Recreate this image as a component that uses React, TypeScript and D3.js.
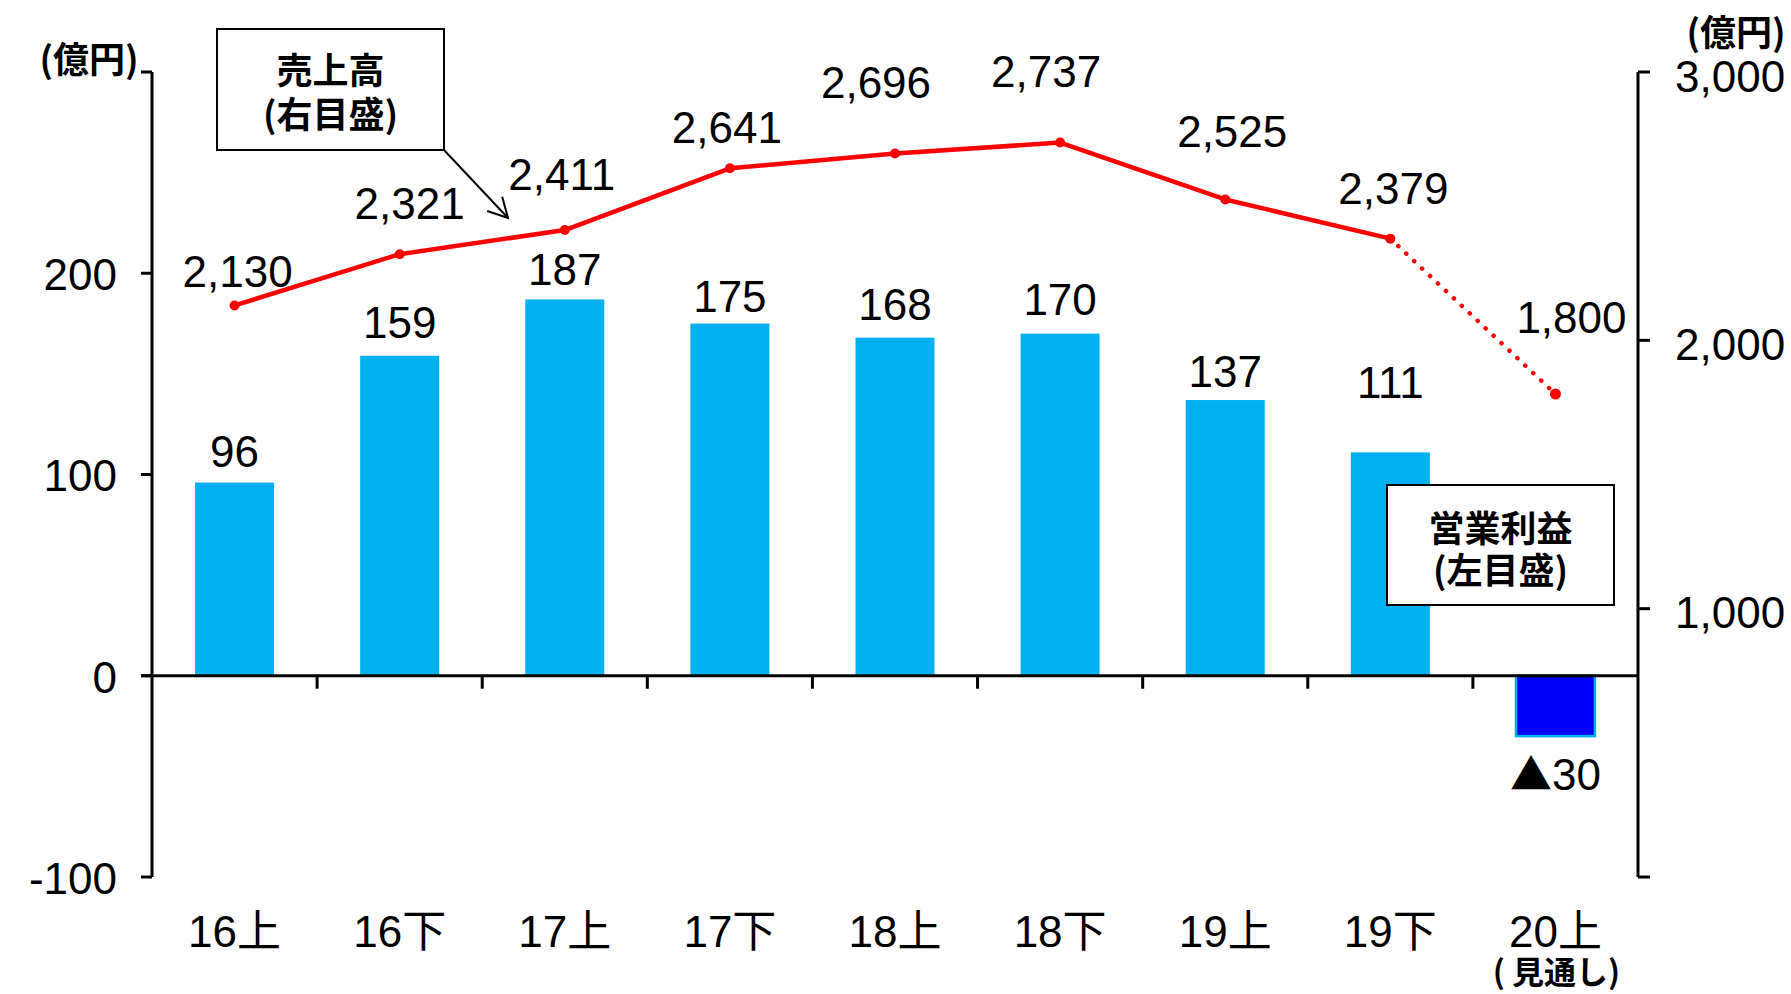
import React from "react";
import * as d3 from "d3";

const categories = ["16上", "16下", "17上", "17下", "18上", "18下", "19上", "19下", "20上"];
const operatingProfit = [96, 159, 187, 175, 168, 170, 137, 111, -30];
const sales = [2130, 2321, 2411, 2641, 2696, 2737, 2525, 2379, 1800];
const leftTickValues = [-100, 0, 100, 200, 300];
const leftTickLabels = ["-100", "0", "100", "200", ""];
const rightTickValues = [0, 1000, 2000, 3000];
const rightTickLabels = ["", "1,000", "2,000", "3,000"];
const forecastIndex = 8;

export default function App() {
  const W = 1791;
  const H = 994;
  const left = 152;
  const right = 1638;
  const top = 72;
  const bottom = 877;

  const x = d3
    .scaleBand<string>()
    .domain(categories)
    .range([left, right])
    .paddingInner(0.5215)
    .paddingOuter(0.26075);
  const yL = d3.scaleLinear().domain([-100, 300]).range([bottom, top]);
  const yR = d3.scaleLinear().domain([0, 3000]).range([bottom, top]);
  const cx = (c: string) => (x(c) as number) + x.bandwidth() / 2;
  const step = x.step();
  const fmt = d3.format(",");

  const numFont = "'Liberation Sans', Arial, sans-serif";
  const jpFont = "'Noto Sans CJK JP', 'Noto Sans', sans-serif";
  const mixFont = "'Liberation Sans', 'Noto Sans CJK JP', sans-serif";
  const numSize = 44;
  const numBase = 15.8; // digit center -> baseline
  const jpSize = 36;
  const jpBase = 13.5;

  // layout offsets for labels (pixel nudges, as in the reference)
  const salesLabelDx = [3, 10, -3, -3, -19, -14, 7, 3, 16];
  const salesLabelDy = [-34, -51, -56, -41, -71, -71, -68, -50, -77];
  const barLabelDy = [-31, -34, -30, -27, -33, -34, -29, -70, 38];

  const pts = sales.map((v, i) => [cx(categories[i]), yR(v)] as [number, number]);
  const line = d3.line();
  const solidPath = line(pts.slice(0, forecastIndex)) as string;
  const dottedPath = line(pts.slice(forecastIndex - 1)) as string;

  const zeroY = yL(0);

  // arrow geometry
  const ax1 = 444, ay1 = 150, ax2 = 508, ay2 = 218;
  const ang = Math.atan2(ay2 - ay1, ax2 - ax1);
  const headLen = 22;
  const headA = (28 * Math.PI) / 180;
  const h1 = [ax2 - headLen * Math.cos(ang - headA), ay2 - headLen * Math.sin(ang - headA)];
  const h2 = [ax2 - headLen * Math.cos(ang + headA), ay2 - headLen * Math.sin(ang + headA)];

  return (
    <svg
      width={W}
      height={H}
      viewBox={`0 0 ${W} ${H}`}
      style={{ position: "absolute", left: 0, top: 0, background: "#fff" }}
    >
      <rect x={0} y={0} width={W} height={H} fill="#fff" />

      {/* bars */}
      {operatingProfit.map((v, i) => {
        const c = categories[i];
        const y0 = Math.min(yL(v), zeroY);
        const h = Math.abs(yL(v) - zeroY);
        const neg = v < 0;
        return (
          <rect
            key={"b" + i}
            x={x(c) as number}
            y={y0}
            width={x.bandwidth()}
            height={h}
            fill={neg ? "#0000FF" : "#00B0F0"}
            stroke={neg ? "#00B0F0" : "none"}
            strokeWidth={neg ? 2.5 : 0}
          />
        );
      })}

      {/* bar labels */}
      {operatingProfit.map((v, i) => {
        const c = categories[i];
        return (
          <text
            key={"bl" + i}
            x={cx(c)}
            y={yL(v) + barLabelDy[i] + numBase}
            textAnchor="middle"
            fontFamily={numFont}
            fontSize={numSize}
            fill="#000"
          >
            {v < 0 ? (
              <>
                <tspan fontFamily={jpFont} fontSize={42}>▲</tspan>
                {String(Math.abs(v))}
              </>
            ) : (
              String(v)
            )}
          </text>
        );
      })}

      {/* left axis */}
      <line x1={left} y1={top} x2={left} y2={bottom} stroke="#000" strokeWidth={3} />
      {leftTickValues.map((v, i) => (
        <g key={"lt" + i}>
          <line x1={left - 11} x2={left} y1={yL(v)} y2={yL(v)} stroke="#000" strokeWidth={3} />
          {leftTickLabels[i] && (
            <text
              x={117}
              y={yL(v) + 1 + numBase}
              textAnchor="end"
              fontFamily={numFont}
              fontSize={numSize}
              fill="#000"
            >
              {leftTickLabels[i]}
            </text>
          )}
        </g>
      ))}
      <text x={89} y={59 + jpBase} textAnchor="middle" fontFamily={jpFont} fontWeight={700} fontSize={jpSize} fill="#000">
        (億円)
      </text>

      {/* right axis */}
      <line x1={right} y1={top} x2={right} y2={bottom} stroke="#000" strokeWidth={3} />
      {rightTickValues.map((v, i) => (
        <g key={"rt" + i}>
          <line x1={right} x2={right + 12} y1={yR(v)} y2={yR(v)} stroke="#000" strokeWidth={3} />
          {rightTickLabels[i] && (
            <text
              x={1675}
              y={yR(v) + 4 + numBase}
              textAnchor="start"
              fontFamily={numFont}
              fontSize={numSize}
              fill="#000"
            >
              {rightTickLabels[i]}
            </text>
          )}
        </g>
      ))}
      <text x={1736} y={32 + jpBase} textAnchor="middle" fontFamily={jpFont} fontWeight={700} fontSize={jpSize} fill="#000">
        (億円)
      </text>

      {/* x axis (zero line) */}
      <line x1={left - 11} x2={right} y1={zeroY} y2={zeroY} stroke="#000" strokeWidth={3} />
      {categories.slice(1).map((c, i) => {
        const bx = left + step * (i + 1);
        return <line key={"xt" + i} x1={bx} x2={bx} y1={zeroY} y2={zeroY + 13} stroke="#000" strokeWidth={3} />;
      })}
      {categories.map((c, i) => (
        <text
          key={"xl" + i}
          x={cx(c)}
          y={931 + numBase}
          textAnchor="middle"
          fontFamily={mixFont}
          fontSize={numSize}
          fill="#000"
        >
          {c}
        </text>
      ))}
      <text
        x={cx(categories[forecastIndex]) + 1}
        y={972 + 11.5}
        textAnchor="middle"
        fontFamily={jpFont}
        fontWeight={700}
        fontSize={32}
        fill="#000"
      >
        ( 見通し)
      </text>

      {/* sales line */}
      <path d={solidPath} fill="none" stroke="#FF0000" strokeWidth={4.5} strokeLinejoin="round" />
      <path
        d={dottedPath}
        fill="none"
        stroke="#FF0000"
        strokeWidth={4.5}
        strokeLinecap="round"
        strokeDasharray="0.1 10.8"
      />
      {pts.map((p, i) => (
        <circle key={"m" + i} cx={p[0]} cy={p[1]} r={i === forecastIndex ? 5.5 : 5} fill="#FF0000" />
      ))}
      {sales.map((v, i) => (
        <text
          key={"sl" + i}
          x={pts[i][0] + salesLabelDx[i]}
          y={pts[i][1] + salesLabelDy[i] + numBase}
          textAnchor="middle"
          fontFamily={numFont}
          fontSize={numSize}
          fill="#000"
        >
          {fmt(v)}
        </text>
      ))}

      {/* legend box: sales */}
      <rect x={217} y={29} width={227} height={121} fill="#fff" stroke="#000" strokeWidth={2} />
      <text x={330.5} y={70 + jpBase} textAnchor="middle" fontFamily={jpFont} fontWeight={700} fontSize={jpSize} fill="#000">
        売上高
      </text>
      <text x={330.5} y={114 + jpBase} textAnchor="middle" fontFamily={jpFont} fontWeight={700} fontSize={jpSize} fill="#000">
        (右目盛)
      </text>
      <line x1={ax1} y1={ay1} x2={ax2} y2={ay2} stroke="#000" strokeWidth={2} />
      <polyline
        points={`${h1[0]},${h1[1]} ${ax2},${ay2} ${h2[0]},${h2[1]}`}
        fill="none"
        stroke="#000"
        strokeWidth={2}
      />

      {/* legend box: operating profit */}
      <rect x={1387} y={485} width={227} height={120} fill="#fff" stroke="#000" strokeWidth={2} />
      <text x={1500.5} y={528 + jpBase} textAnchor="middle" fontFamily={jpFont} fontWeight={700} fontSize={jpSize} fill="#000">
        営業利益
      </text>
      <text x={1500.5} y={570 + jpBase} textAnchor="middle" fontFamily={jpFont} fontWeight={700} fontSize={jpSize} fill="#000">
        (左目盛)
      </text>
    </svg>
  );
}
